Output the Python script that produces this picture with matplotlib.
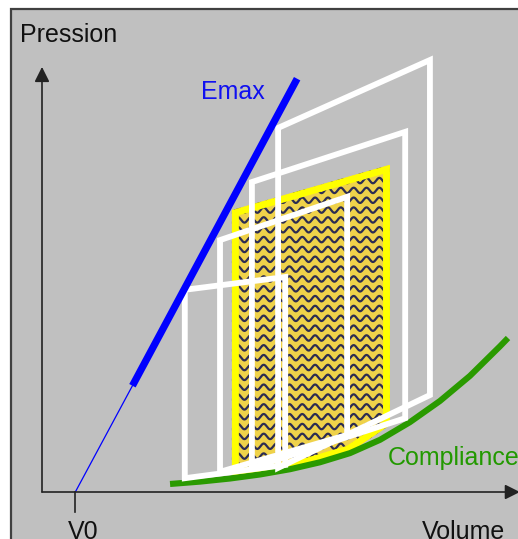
import numpy as np
import matplotlib
matplotlib.use("Agg")
import matplotlib.pyplot as plt
from matplotlib.patches import Rectangle, Polygon

plt.rcParams['font.family'] = ['Liberation Sans', 'DejaVu Sans']

# ---- data (volume units 0..100, pressure units 0..100) ----
v0 = 7.0
emax_thin_v = [7.0, 19.0]
emax_thin_p = [0.0, 21.6]
emax_thick_v = [19.0, 53.6]
emax_thick_p = [21.6, 84.0]

compliance_v = [26.9, 33.2, 39.5, 45.8, 52.1, 58.4, 64.7, 71.0, 77.3, 83.6, 89.9, 96.2, 97.9]
compliance_p = [1.63, 2.11, 2.74, 3.56, 4.63, 6.04, 7.9, 10.6, 14.2, 18.5, 23.6, 29.6, 31.3]

loop_v_left = [30.0, 37.4, 44.1, 49.6]
loop_v_right = [51.1, 64.1, 76.3, 81.5]
loop_p_bl = [2.8, 4.1, 4.9, 4.9]
loop_p_tl = [41.1, 51.2, 63.0, 74.0]
loop_p_tr = [43.7, 60.0, 73.2, 87.8]
loop_p_br = [5.5, 11.6, 15.0, 19.7]

yellow_v = [39.9, 39.9, 73.1, 73.1, 64.7, 54.2]
yellow_p = [3.3, 57.3, 66.5, 13.6, 8.1, 5.1]

W, H = 518, 539
fig = plt.figure(figsize=(W / 100, H / 100), dpi=100)
fig.patch.set_facecolor('white')

ax = fig.add_axes([42 / W, 47 / H, 476 / W, 492 / H])
ax.set_xlim(0, 100)
ax.set_ylim(0, 100)
ax.axis('off')
ax.patch.set_alpha(0)

# gray panel with top/left dark border (drawn in figure coordinates)
panel = Rectangle((10.5 / W, -0.05), 1.2, (H - 9) / H + 0.05, transform=fig.transFigure,
                  facecolor='#C0C0C0', edgecolor='#404040', linewidth=1.6, zorder=0,
                  clip_on=False)
ax.add_artist(panel)

# ---- yellow region with wavy texture ----
ypts = np.column_stack([yellow_v, yellow_p])
gold = Polygon(ypts, closed=True, facecolor='#EFD24A', edgecolor='none', zorder=1)
ax.add_patch(gold)
xs = np.linspace(min(yellow_v) - 2, max(yellow_v) + 2, 800)
period = 2.7
amp = 0.55
for row in np.arange(min(yellow_p) - 2, max(yellow_p) + 2, 2.0):
    ln, = ax.plot(xs, row + amp * np.sin(2 * np.pi * xs / period), color='#2C2C52',
                  lw=1.6, zorder=1.5, solid_capstyle='butt')
    ln.set_clip_path(gold)
border = Polygon(ypts, closed=True, facecolor='none', edgecolor='#FFFF00', linewidth=10,
                 joinstyle='miter', zorder=2)
ax.add_patch(border)
border.set_clip_path(gold)

# ---- compliance curve ----
ax.plot(compliance_v, compliance_p, color='#2A9A00', lw=4.4, solid_capstyle='butt',
        solid_joinstyle='round', zorder=3)

# ---- PV loops ----
for vl, vr, pbl, ptl, ptr, pbr in zip(loop_v_left, loop_v_right, loop_p_bl, loop_p_tl,
                                      loop_p_tr, loop_p_br):
    poly = Polygon([[vl, pbl], [vl, ptl], [vr, ptr], [vr, pbr]], closed=True,
                   facecolor='none', edgecolor='white', linewidth=4.2, joinstyle='miter',
                   zorder=4)
    ax.add_patch(poly)

# ---- Emax line ----
ax.plot(emax_thin_v, emax_thin_p, color='#0000FF', lw=0.9, zorder=5)
ax.plot(emax_thick_v, emax_thick_p, color='#0000FF', lw=5.2, solid_capstyle='butt', zorder=5)

# ---- axes arrows ----
arrow = dict(arrowstyle='-|>,head_length=0.6,head_width=0.3', mutation_scale=15,
             color='#222222', lw=1.2, shrinkA=0, shrinkB=0)
ax.annotate('', xy=(0, 86.4), xytext=(0, 0), arrowprops=arrow, annotation_clip=False,
            zorder=6)
ax.annotate('', xy=(100.4, 0), xytext=(0, 0), arrowprops=arrow, annotation_clip=False,
            zorder=6)
ax.plot([v0, v0], [0, -4.1], color='#222222', lw=1.2, clip_on=False, zorder=6)

# ---- texts ----
fs = 18
ax.text(-4.62, 91.5, 'Pression', fontsize=fs, color='#111111', va='baseline', ha='left',
        clip_on=False, zorder=7)
ax.text(33.4, 79.9, 'Emax', fontsize=fs, color='#1010F0', va='baseline', ha='left', zorder=7)
ax.text(72.7, 5.5, 'Compliance', fontsize=fs, color='#229900', va='baseline', ha='left',
        clip_on=False, zorder=7)
ax.text(79.8, -9.5, 'Volume', fontsize=fs, color='#111111', va='baseline', ha='left',
        clip_on=False, zorder=7)
ax.text(5.46, -9.6, 'V0', fontsize=fs, color='#111111', va='baseline', ha='left',
        clip_on=False, zorder=7)

fig.savefig('out.png', dpi=100, facecolor='white')
